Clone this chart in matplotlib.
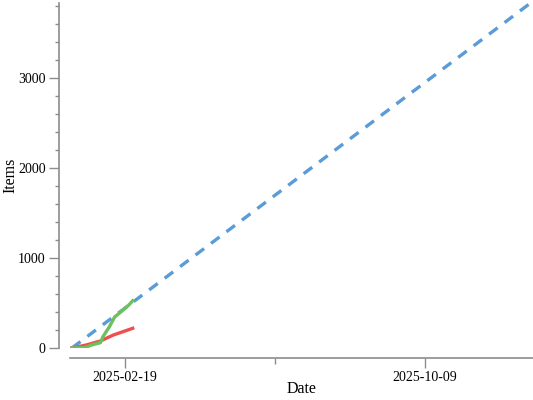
import numpy as np
import pandas as pd
import matplotlib
matplotlib.use("Agg")
import matplotlib.pyplot as plt
import matplotlib.dates as mdates
from matplotlib.ticker import MultipleLocator

plt.rcParams['font.family'] = ['Liberation Serif', 'DejaVu Serif']

# dados
green_dates = ['2025-01-09', '2025-01-13', '2025-01-19', '2025-01-24', '2025-01-31',
               '2025-02-02', '2025-02-07', '2025-02-11', '2025-02-16', '2025-02-22',
               '2025-02-25']
green_vals = [0, 2, 4, 33, 59, 126, 237, 344, 403, 478, 525]

red_dates = ['2025-01-09', '2025-01-20', '2025-01-31', '2025-02-10', '2025-02-25']
red_vals = [0, 33, 78, 144, 219]

blue_dates = ['2025-01-09', '2025-12-31']
blue_vals = [0, 3848]

x_ticks = ['2025-02-19', '2025-10-09']
x_minor = ['2025-06-15']

W, H = 533, 400
fig = plt.figure(figsize=(W / 100, H / 100), dpi=100)
ax = fig.add_axes([70 / W, 52 / H, 463 / W, 345 / H])

gray = '#8c8c8c'
ax.plot(pd.to_datetime(blue_dates), blue_vals, color='#5a9bd8', lw=2.4,
        dashes=(3.2, 2.6))
ax.plot(pd.to_datetime(red_dates), red_vals, color='#ee5050', lw=2.4)
ax.plot(pd.to_datetime(green_dates), green_vals, color='#6cc15c', lw=2.4)

x0 = pd.Timestamp('2025-02-19') - pd.Timedelta(days=42.5)
x1 = pd.Timestamp('2025-02-19') + pd.Timedelta(days=315.5)
ax.set_xlim(x0, x1)
ax.set_ylim(0, 3833)

ax.set_xticks(pd.to_datetime(x_ticks))
ax.xaxis.set_major_formatter(mdates.DateFormatter('%Y-%m-%d'))
ax.set_xticks(pd.to_datetime(x_minor), minor=True)
ax.yaxis.set_major_locator(MultipleLocator(1000))
ax.yaxis.set_minor_locator(MultipleLocator(200))

for s in ['top', 'right']:
    ax.spines[s].set_visible(False)
ax.spines['left'].set_position(('outward', 8))
ax.spines['bottom'].set_position(('outward', 7))
for s in ['left', 'bottom']:
    ax.spines[s].set_color(gray)
    ax.spines[s].set_linewidth(1.2)

ax.tick_params(axis='both', which='major', length=7.5, width=1, color=gray,
               labelsize=10, pad=2)
ax.tick_params(axis='y', which='minor', length=3, width=1, color=gray)
ax.tick_params(axis='x', which='minor', length=4, width=1, color=gray)

ax.set_xlabel('Date', fontsize=11.5)
ax.set_ylabel('Items', fontsize=11.5)
ax.xaxis.set_label_coords(0.499, -0.097)
ax.yaxis.set_label_coords(-0.112, 0.501)

fig.savefig('out.png', dpi=100)
